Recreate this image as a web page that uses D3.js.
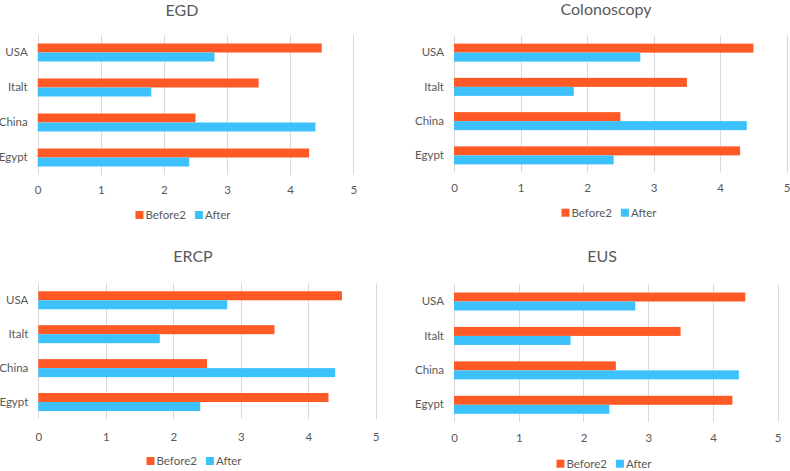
<!DOCTYPE html>
<html>
<head>
<meta charset="utf-8">
<script src="https://cdn.jsdelivr.net/npm/d3@7"></script>
<style>
  html, body { margin: 0; padding: 0; background: #fff; }
  svg { display: block; font-family: Lato, "Open Sans", sans-serif; }
</style>
</head>
<body>
<svg id="chart" width="790" height="471"></svg>
<script>
// ---- data ----
const panelTitles = ["EGD", "Colonoscopy", "ERCP", "EUS"];
const categories = ["USA", "Italt", "China", "Egypt"]; // top to bottom
const before2 = [4.5, 3.5, 2.5, 4.3];
const after = [2.8, 1.8, 4.4, 2.4];
const seriesNames = ["Before2", "After"];
const xTicks = [0, 1, 2, 3, 4, 5];

// ---- layout ----
const layout = [
  { x0: 37.7, x1: 353.3, top: 35, bottom: 175, tickY: 190, titleX: 182, titleY: 10, legX: 183, legY: 215 },
  { x0: 454, x1: 786.7, top: 35.5, bottom: 172.5, tickY: 188, titleX: 606, titleY: 9.5, legX: 609, legY: 212.7 },
  { x0: 38.3, x1: 375.7, top: 283.3, bottom: 419, tickY: 437, titleX: 193, titleY: 256.7, legX: 194, legY: 461 },
  { x0: 454, x1: 777.7, top: 284.3, bottom: 422, tickY: 438, titleX: 602, titleY: 256.7, legX: 604, legY: 463.7 }
];
const colors = { Before2: "#FF5A26", After: "#3DC1FB" };
const textColor = "#595959";
const gridColor = "#D9D9D9";

const svg = d3.select("#chart");

layout.forEach((L, i) => {
  const g = svg.append("g");
  const x = d3.scaleLinear().domain([0, 5]).range([L.x0, L.x1]);
  const y = d3.scaleBand().domain(categories).range([L.top, L.bottom]).paddingInner(0).paddingOuter(0);
  const inner = d3.scaleBand().domain(seriesNames).range([0, 18]);
  const step = y.bandwidth();

  // gridlines
  g.selectAll("line.grid").data(xTicks).join("line")
    .attr("x1", d => Math.round(x(d)) + 0.5).attr("x2", d => Math.round(x(d)) + 0.5)
    .attr("y1", L.top).attr("y2", L.bottom)
    .attr("stroke", gridColor).attr("stroke-width", 1);

  // x axis labels via d3 axis
  const ax = g.append("g").attr("transform", `translate(0,${L.tickY - 4.5})`)
    .call(d3.axisBottom(x).tickValues(xTicks).tickSize(0).tickPadding(0).tickFormat(d3.format("d")));
  ax.select(".domain").remove();
  ax.selectAll("text").attr("fill", textColor).attr("font-size", 11.5)
    .attr("font-family", "Lato, 'Open Sans', sans-serif");

  // y axis labels
  const ay = g.append("g").attr("transform", `translate(${L.x0 - 10},0)`)
    .call(d3.axisLeft(y).tickSize(0).tickPadding(0));
  ay.select(".domain").remove();
  ay.selectAll("text").attr("fill", textColor).attr("font-size", 11.5)
    .attr("font-family", "Lato, 'Open Sans', sans-serif");

  // bars
  const rows = categories.map((c, k) => ({ cat: c, vals: [before2[k], after[k]] }));
  const rg = g.selectAll("g.row").data(rows).join("g")
    .attr("transform", d => `translate(0,${y(d.cat) + step / 2 - 9})`);
  rg.selectAll("rect").data(d => d.vals.map((v, j) => ({ s: seriesNames[j], v }))).join("rect")
    .attr("x", x(0)).attr("y", d => inner(d.s))
    .attr("width", d => x(d.v) - x(0)).attr("height", inner.bandwidth())
    .attr("fill", d => colors[d.s]);

  // title
  g.append("text").attr("x", L.titleX).attr("y", L.titleY).attr("dy", "0.35em")
    .attr("text-anchor", "middle").attr("font-size", 16).attr("fill", textColor)
    .text(panelTitles[i]);

  // legend
  const leg = g.append("g");
  let cx = 0;
  seriesNames.forEach((s, j) => {
    const it = leg.append("g").attr("transform", `translate(${cx},0)`);
    it.append("rect").attr("x", 0).attr("y", -4).attr("width", 8).attr("height", 8).attr("fill", colors[s]);
    const t = it.append("text").attr("x", 10).attr("y", 0).attr("dy", "0.35em")
      .attr("font-size", 11.5).attr("fill", textColor).text(s);
    const w = t.node().getComputedTextLength();
    cx += 10 + w + 9;
  });
  const totalW = cx - 9;
  leg.attr("transform", `translate(${L.legX - totalW / 2},${L.legY})`);
});
</script>
</body>
</html>
